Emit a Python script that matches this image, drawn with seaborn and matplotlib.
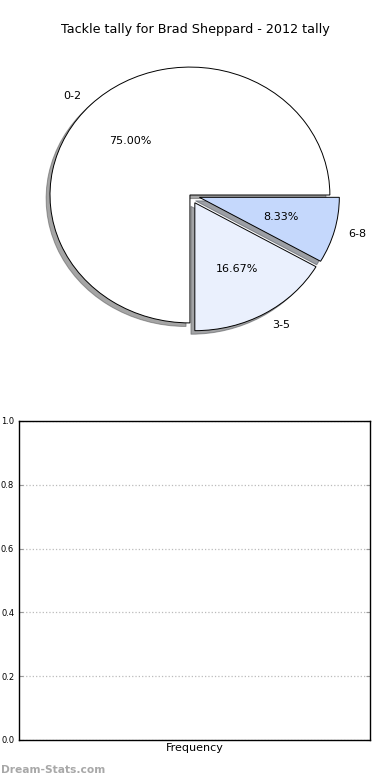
#!/usr/bin/env python3

import matplotlib
matplotlib.use("Agg")
from matplotlib import pyplot as plt
import seaborn as sns

sns.set_style("white")
plt.rcParams["font.family"] = ["DejaVu Sans"]
plt.rcParams["text.color"] = "black"
plt.rcParams["axes.labelcolor"] = "black"
plt.rcParams["ytick.labelcolor"] = "black"

player = "Brad Sheppard"
season = 2012
tackle_bins = ["0-2", "3-5", "6-8"]
games = [9, 2, 1]
slice_colors = ["#ffffff", "#eaf0fd", "#c5d8fc"]

fig = plt.figure(figsize=(3.9, 7.8), dpi=100)

# pie on top (not equal aspect, stretched a bit sideways like the original)
ax = fig.add_axes([0.0385, 0.545, 0.897, 0.410])
wedges, texts, autotexts = ax.pie(
    games,
    labels=tackle_bins,
    colors=slice_colors,
    explode=[0, 0.07, 0.07],
    autopct="%1.2f%%",
    shadow=True,
    startangle=0,
    wedgeprops={"edgecolor": "black", "linewidth": 0.7},
    textprops={"fontsize": 8, "color": "black"},
)
ax.set_aspect("auto")
ax.set_xlim(-1.25, 1.25)
ax.set_ylim(-1.25, 1.25)
fig.text(0.5, 0.962, "Tackle tally for %s - %d tally" % (player, season),
         ha="center", va="center", fontsize=9.2)

# empty frequency axes below
ax2 = fig.add_axes([0.0487, 0.0513, 0.9, 0.409])
sns.barplot(x=[], y=[], ax=ax2)
ax2.set_ylim(0, 1)
ax2.set_xlim(0, 1)
ax2.set_yticks([0.0, 0.2, 0.4, 0.6, 0.8, 1.0])
ax2.set_xticks([])
ax2.tick_params(axis="y", labelsize=6, direction="in", length=3, right=True, left=True, color="#999999")
ax2.yaxis.grid(True, linestyle=":", color="#bbbbbb", linewidth=0.9)
ax2.set_axisbelow(True)
for s in ax2.spines.values():
    s.set_color("black")
    s.set_linewidth(1.0)
ax2.set_xlabel("Frequency", fontsize=8, labelpad=2)
ax2.set_ylabel("")

fig.text(0.003, 0.013, "Dream-Stats.com", fontsize=7.7, color="#a8a8a8",
         fontweight="bold", ha="left", va="center")

fig.savefig("out.png", dpi=100)
